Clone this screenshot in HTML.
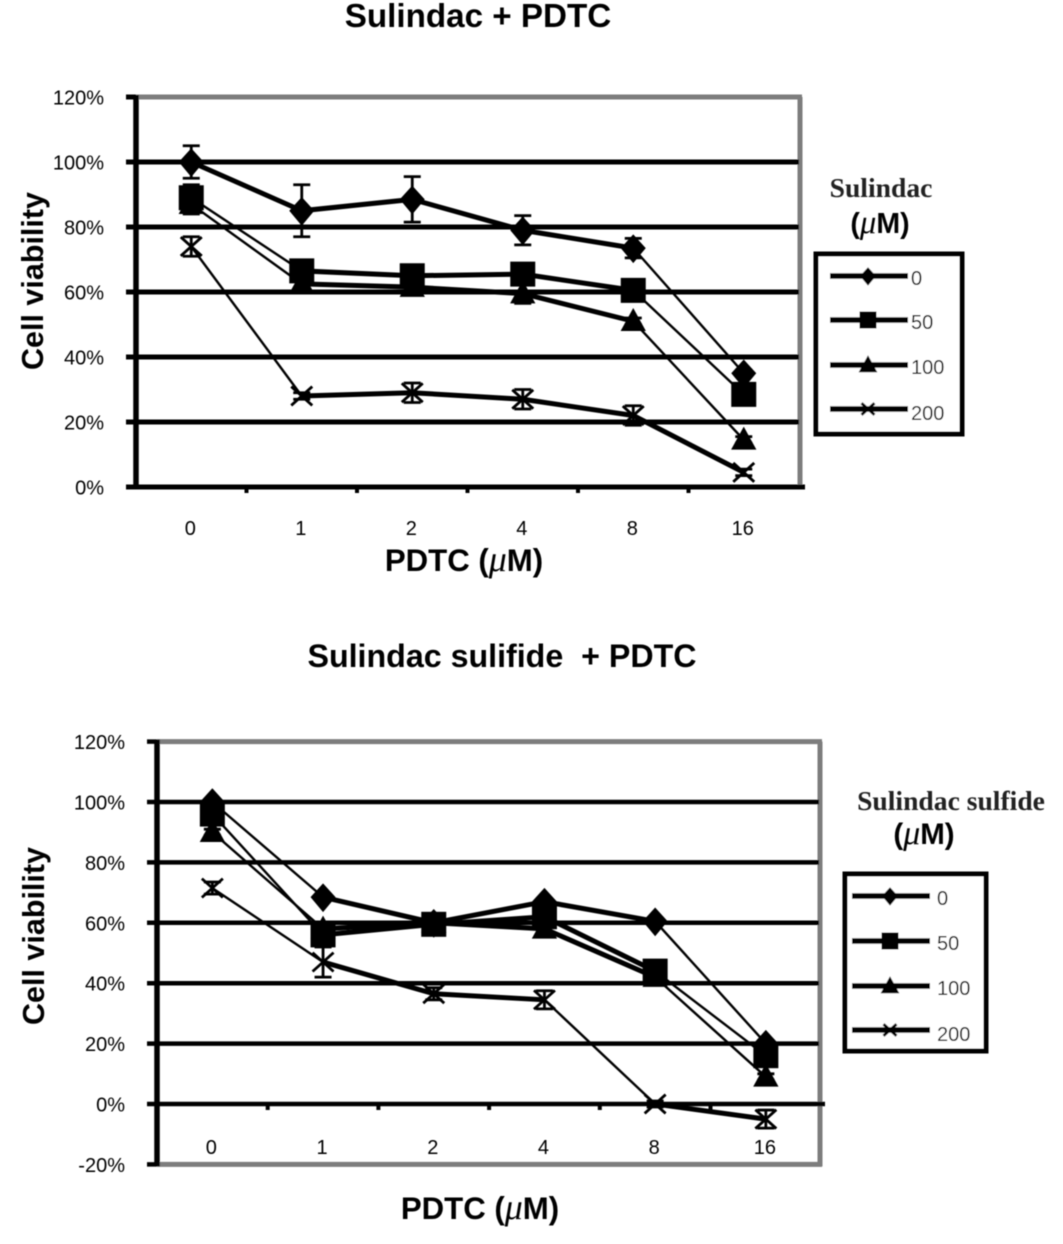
<!DOCTYPE html>
<html>
<head>
<meta charset="utf-8">
<title>Sulindac + PDTC cell viability</title>
<style>
html,body{margin:0;padding:0;background:#fff;width:1063px;height:1244px;overflow:hidden}
svg{display:block;position:absolute;left:0;top:0}
text{fill:#000;font-family:"Liberation Sans",sans-serif}
.tick{font-size:20px;fill:#000}
.title{font-size:32.2px;font-weight:bold}
.axt{font-size:31.2px;font-weight:bold}
.leg{font-size:20px;fill:#000}
.sb{font-family:"Liberation Serif",serif;font-weight:bold;font-size:27.6px;fill:#222}
.mu{font-family:"Liberation Serif",serif;font-style:italic;font-weight:normal;font-size:1.15em}
</style>
</head>
<body>
<svg id="root" width="1063" height="1244" viewBox="0 0 1063 1244" xmlns="http://www.w3.org/2000/svg">
<defs><filter id="soft" x="-2%" y="-2%" width="104%" height="104%"><feGaussianBlur stdDeviation="0.4"/></filter></defs>
<g id="art" filter="url(#soft)">
<text class="title" style="font-size:33.2px" x="478" y="27" text-anchor="middle">Sulindac + PDTC</text>
<text class="axt" style="font-size:30.5px" text-anchor="middle" transform="translate(43,281) rotate(-90)">Cell viability</text>
<text class="axt" x="464" y="571" text-anchor="middle">PDTC (<tspan class="mu">μ</tspan>M)</text>
<text class="sb" x="881" y="197" text-anchor="middle">Sulindac</text>
<text class="axt" style="font-size:28.5px" x="880" y="233" text-anchor="middle">(<tspan class="mu">μ</tspan>M)</text>
<text class="title" x="502" y="667" text-anchor="middle" xml:space="preserve">Sulindac sulifide  + PDTC</text>
<text class="axt" style="font-size:30.5px" text-anchor="middle" transform="translate(44,936) rotate(-90)">Cell viability</text>
<text class="axt" x="480" y="1219" text-anchor="middle">PDTC (<tspan class="mu">μ</tspan>M)</text>
<text class="sb" x="951" y="810" text-anchor="middle">Sulindac sulfide</text>
<text class="axt" style="font-size:29.5px" x="924" y="844" text-anchor="middle">(<tspan class="mu">μ</tspan>M)</text>
</g>
</svg>
<script>
const categories = ["0", "1", "2", "4", "8", "16"];
const seriesNames = ["0", "50", "100", "200"];
const topTicks = [0, 20, 40, 60, 80, 100, 120];
const bottomTicks = [-20, 0, 20, 40, 60, 80, 100, 120];

const topS0 = [100, 85, 88.5, 79, 73.5, 35];
const topS50 = [89, 66.5, 65, 65.5, 60.5, 28.5];
const topS100 = [87, 62.5, 61.5, 59.5, 51, 14.5];
const topS200 = [74, 28, 29, 27, 22, 4.5];
const topE0 = [5, 8, 7, 4.5, 3, 1];
const topE50 = [4, 2, 2, 2, 1, 1];
const topE100 = [3, 2, 2, 3, 1, 1];
const topE200 = [3, 1, 3, 3, 3, 1];

const botS0 = [100, 68.5, 60, 67, 60.5, 20];
const botS50 = [96, 56, 59.5, 62, 44, 16];
const botS100 = [90, 58, 60, 58, 42, 9];
const botS200 = [71.5, 47, 36.5, 34.5, 0, -5];
const botE0 = [1, 1, 1, 1, 1, 1];
const botE50 = [1, 1, 1, 1, 1, 1];
const botE100 = [1, 1, 1, 1, 1, 1];
const botE200 = [2, 5, 2, 3, 1, 3];

/* Which line segments (by index) are drawn thin in each series */
const topThin = [[4], [0, 4], [0, 4], [0]];
const botThin = [[0, 4], [0, 4], [0, 4], [0, 3]];

const NS = "http://www.w3.org/2000/svg";
const art = document.getElementById("art");

function mk(tag, attrs, parent) {
  const el = document.createElementNS(NS, tag);
  for (const k in attrs) el.setAttribute(k, attrs[k]);
  (parent || art).appendChild(el);
  return el;
}

function marker(g, kind, x, y, s) {
  let el;
  if (kind === 0) {
    el = mk("polygon", {points: [x, y - s * 1.1, x + s, y, x, y + s * 1.2, x - s, y].join(" "), fill: "#000"}, g);
  } else if (kind === 1) {
    el = mk("rect", {x: x - s, y: y - s, width: s * 2, height: s * 2, fill: "#000"}, g);
  } else if (kind === 2) {
    el = mk("polygon", {points: [x, y - s * 1.15, x + s * 1.1, y + s * 0.85, x - s * 1.1, y + s * 0.85].join(" "), fill: "#000"}, g);
  } else {
    el = mk("path", {d: "M" + (x - s) + " " + (y - s * .9) + "L" + (x + s) + " " + (y + s * .9) + "M" + (x + s) + " " + (y - s * .9) + "L" + (x - s) + " " + (y + s * .9), stroke: "#000", "stroke-width": 2.8, fill: "none"}, g);
  }
  return el;
}

function drawChart(cfg) {
  const yOf = v => cfg.y0 - v * cfg.pxPerPct;
  const xOf = i => cfg.left + cfg.band * (i + 0.5);
  const prefix = cfg.name;
  const top = yOf(cfg.ticks[cfg.ticks.length - 1]);
  const bottom = yOf(cfg.ticks[0]);

  const frameTop = mk("line", {x1: cfg.left, x2: cfg.right + 2, y1: top, y2: top, stroke: "#7d7d7d", "stroke-width": 5});
  
  
  const frameRight = mk("line", {x1: cfg.right, x2: cfg.right, y1: top, y2: bottom + 2, stroke: "#7d7d7d", "stroke-width": 5});
  
  
  if (cfg.ticks[0] < 0) {
    const frameBottom = mk("line", {x1: cfg.left, x2: cfg.right + 2, y1: bottom, y2: bottom, stroke: "#7d7d7d", "stroke-width": 5});
    
    
  }

  cfg.ticks.forEach(t => {
    const y = yOf(t);
    const isFrame = t === cfg.ticks[cfg.ticks.length - 1] || t === cfg.ticks[0] && t < 0;
    const grid = mk("line", {x1: cfg.left - 10, x2: isFrame ? cfg.left : cfg.right - 1 + (t === 0 ? 6 : 0), y1: y, y2: y, stroke: "#000", "stroke-width": cfg.gridW});
    
    
    const label = mk("text", {class: "tick", x: cfg.left - 32, y: y + 7.5, "text-anchor": "end"});
    label.textContent = t + "%";
    
    
  });

  const yAxis = mk("line", {x1: cfg.left, x2: cfg.left, y1: top - 2, y2: bottom + 2, stroke: "#000", "stroke-width": 5.5});
  
  

  categories.forEach((c, i) => {
    const tx = cfg.left + cfg.band * i;
    if (i > 0) {
      const tick = mk("line", {x1: tx, x2: tx, y1: yOf(0), y2: yOf(0) + 6, stroke: "#000", "stroke-width": 4});
      
      
    }
    const label = mk("text", {class: "tick", x: xOf(i) - 1, y: cfg.catY, "text-anchor": "middle"});
    label.textContent = c;
    
    
  });

  cfg.series.forEach((vals, s) => {
    const g = mk("g", {});
    
    
    vals.forEach((v, i) => {
      const e = cfg.errors[s][i];
      const x = xOf(i);
      const bar = mk("path", {d: "M" + x + " " + yOf(v + e) + "V" + yOf(v - e) + "M" + (x - 8.5) + " " + yOf(v + e) + "h17M" + (x - 8.5) + " " + yOf(v - e) + "h17", stroke: "#000", "stroke-width": 2.8, fill: "none"}, g);
      
      
    });
    for (let i = 0; i < vals.length - 1; i++) {
      const seg = mk("line", {x1: xOf(i), y1: yOf(vals[i]), x2: xOf(i + 1), y2: yOf(vals[i + 1]), stroke: "#000", "stroke-width": cfg.thin[s].includes(i) ? 2.4 : 5}, g);
      
      
    }
    vals.forEach((v, i) => {
      const m = marker(g, s, xOf(i), yOf(v), [12.5, 12.5, 11.5, 10.5][s]);
      
      
    });
  });

  const box = mk("rect", {x: cfg.legend.x, y: cfg.legend.y, width: cfg.legend.w, height: cfg.legend.h, fill: "#fff", stroke: "#000", "stroke-width": 5});
  
  
  seriesNames.forEach((n, s) => {
    const ly = cfg.legend.rows[s];
    const g = mk("g", {});
    
    
    mk("line", {x1: cfg.legend.lx, x2: cfg.legend.lx + 78, y1: ly, y2: ly, stroke: "#000", "stroke-width": 5.5}, g);
    marker(g, s, cfg.legend.lx + 38, ly, [8, 8.5, 8.5, 6.5][s]);
    const t = mk("text", {class: "leg", x: cfg.legend.lx + cfg.legend.labelDx, y: ly + 9 + (s === 3 ? 2 : 0)}, g);
    t.textContent = n;
  });
}

drawChart({
  name: "top-chart", left: 136, right: 800, band: 110.5, y0: 487, pxPerPct: 3.25,
  ticks: topTicks, gridW: 5, catY: 535,
  series: [topS0, topS50, topS100, topS200],
  errors: [topE0, topE50, topE100, topE200],
  thin: topThin,
  legend: {x: 816, y: 254, w: 146, h: 180, lx: 830, labelDx: 81, rows: [276, 320, 365, 409]}
});
drawChart({
  name: "bottom-chart", left: 157, right: 820, band: 110.7, y0: 1104, pxPerPct: 3.02,
  ticks: bottomTicks, gridW: 4.5, catY: 1154,
  series: [botS0, botS50, botS100, botS200],
  errors: [botE0, botE50, botE100, botE200],
  thin: botThin,
  legend: {x: 845, y: 874, w: 141, h: 177, lx: 852, labelDx: 85, rows: [896, 941, 986, 1030]}
});
</script>
</body>
</html>
